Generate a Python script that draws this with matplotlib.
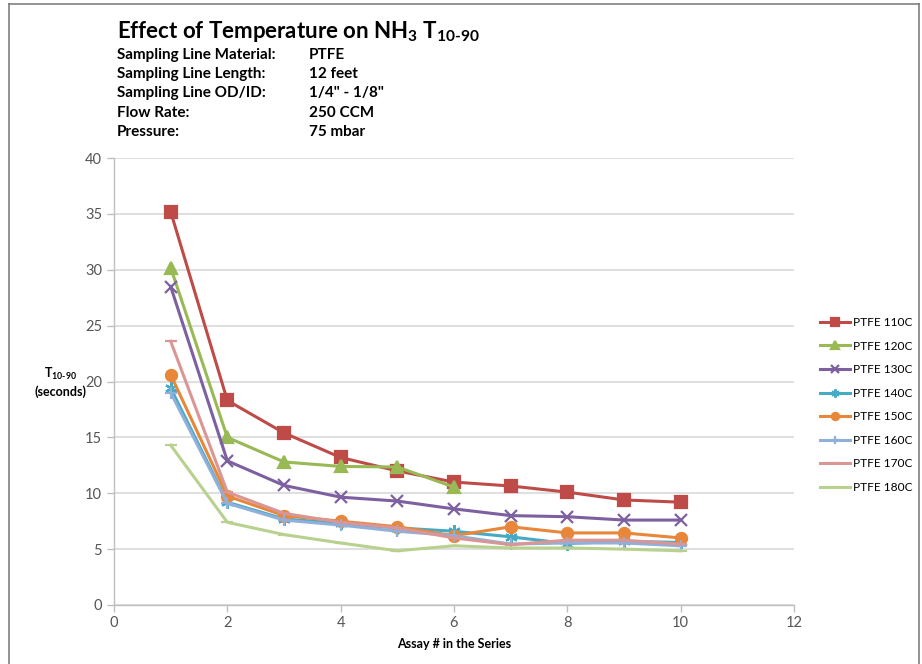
import matplotlib
matplotlib.use("Agg")
import matplotlib.pyplot as plt
from matplotlib.lines import Line2D

plt.rcParams['font.family'] = ['Lato', 'DejaVu Sans']
plt.rcParams['mathtext.fontset'] = 'custom'
plt.rcParams['mathtext.rm'] = 'Lato:bold'
plt.rcParams['mathtext.it'] = 'Lato:bold'
plt.rcParams['mathtext.bf'] = 'Lato:bold'

assay = [1, 2, 3, 4, 5, 6, 7, 8, 9, 10]
series_names = ["PTFE 110C", "PTFE 120C", "PTFE 130C", "PTFE 140C",
                "PTFE 150C", "PTFE 160C", "PTFE 170C", "PTFE 180C"]
ptfe_110 = [35.2, 18.3, 15.4, 13.2, 12.0, 11.0, 10.65, 10.1, 9.4, 9.2]
ptfe_120 = [30.2, 15.0, 12.8, 12.4, 12.35, 10.55]
ptfe_130 = [28.5, 12.9, 10.7, 9.65, 9.3, 8.6, 8.0, 7.9, 7.6, 7.6]
ptfe_140 = [19.4, 9.2, 7.7, 7.3, 6.9, 6.6, 6.1, 5.5, 5.7, 5.6]
ptfe_150 = [20.6, 9.75, 8.0, 7.5, 7.0, 6.2, 7.0, 6.45, 6.45, 6.0]
ptfe_160 = [19.0, 9.1, 7.6, 7.15, 6.6, 6.2, 5.45, 5.55, 5.55, 5.3]
ptfe_170 = [23.6, 10.1, 8.2, 7.4, 6.9, 6.0, 5.4, 5.8, 5.8, 5.45]
ptfe_180 = [14.3, 7.4, 6.3, 5.55, 4.85, 5.3, 5.1, 5.1, 5.0, 4.85]

info_labels = ["Sampling Line Material:", "Sampling Line Length:",
               "Sampling Line OD/ID:", "Flow Rate:", "Pressure:"]
info_values = ["PTFE", "12 feet", '1/4" - 1/8"', "250 CCM", "75 mbar"]

series = [ptfe_110, ptfe_120, ptfe_130, ptfe_140, ptfe_150, ptfe_160, ptfe_170, ptfe_180]
colors = ["#BE4B48", "#98B954", "#7D60A0", "#46AAC5", "#E8873A", "#8EB0DA", "#DA9694", "#B8D18F"]
markers = ["s", "^", "x", (6, 2, 0), "o", "+", "_", "_"]
msizes = [8, 8, 9, 9, 8, 9, 8, 8]

fig = plt.figure(figsize=(9.22, 6.64), dpi=100)
W, H = 922, 664
ax = fig.add_axes([114 / W, (H - 605) / H, 680 / W, 447 / H])

for name, vals, c, m, ms in zip(series_names, series, colors, markers, msizes):
    ax.plot(assay[:len(vals)], vals, color=c, marker=m, markersize=ms, linewidth=2.2,
            markeredgewidth=1.6, label=name, zorder=3)

ax.set_xlim(0, 12)
ax.set_ylim(0, 40)
ax.set_xticks(range(0, 13, 2))
ax.set_yticks(range(0, 41, 5))
ax.yaxis.grid(True, color="#D9D9D9", linewidth=1.2, zorder=0)
ax.set_axisbelow(True)
for s in ["top", "right"]:
    ax.spines[s].set_visible(False)
for s in ["left", "bottom"]:
    ax.spines[s].set_color("#BFBFBF")
    ax.spines[s].set_linewidth(1.0)
ax.tick_params(axis="both", colors="#BFBFBF", length=5, width=1.0, labelsize=10.5,
               labelcolor="#555555", direction="out")
ax.tick_params(axis="x", pad=3)

ax.set_xlabel("Assay # in the Series", fontsize=9, fontweight="bold", labelpad=6)
fig.text(60 / W, 1 - 382 / H, "T$_{10\\text{-}90}$\n(seconds)", fontsize=9,
         fontweight="bold", ha="center", va="center", linespacing=1.3)

leg = ax.legend(loc="center left", bbox_to_anchor=(820 / W, 1 - 405 / H),
                bbox_transform=fig.transFigure, frameon=False, fontsize=8.6,
                handlelength=2.5, labelspacing=1.05, handletextpad=0.3,
                markerscale=0.65, borderpad=0, borderaxespad=0)

fig.text(117 / W, 1 - 31 / H, "Effect of Temperature on NH$_3$ T$_{10\\text{-}90}$",
         fontsize=16, fontweight="bold", va="center", ha="left")
ys = [55, 74, 93, 113, 132]
for lab, val, y in zip(info_labels, info_values, ys):
    fig.text(117 / W, 1 - y / H, lab, fontsize=11, fontweight="bold", va="center")
    fig.text(309 / W, 1 - y / H, val, fontsize=11, fontweight="bold", va="center")

bc = "#808080"
fig.add_artist(Line2D([9 / W, 9 / W], [0, 1 - 4 / H], color=bc, linewidth=1.2, transform=fig.transFigure))
fig.add_artist(Line2D([9 / W, 919 / W], [1 - 4 / H, 1 - 4 / H], color=bc, linewidth=1.2, transform=fig.transFigure))
fig.add_artist(Line2D([919 / W, 919 / W], [0, 1 - 4 / H], color=bc, linewidth=1.2, transform=fig.transFigure))

fig.savefig("out.png", dpi=100)
